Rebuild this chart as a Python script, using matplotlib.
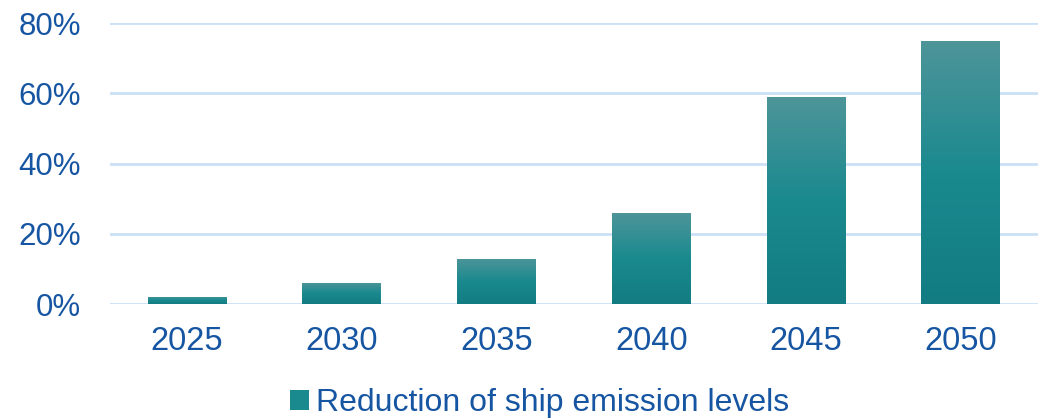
import matplotlib.pyplot as plt
import numpy as np
from matplotlib.colors import LinearSegmentedColormap
from matplotlib.patches import Patch

years = ['2025', '2030', '2035', '2040', '2045', '2050']
reduction = [2, 6, 13, 26, 59, 75]

plt.rcParams['font.family'] = ['Liberation Sans', 'DejaVu Sans']
text_col = '#1655A2'

fig = plt.figure(figsize=(10.56, 4.19), dpi=100)
ax = fig.add_axes([0.104, 0.274, 0.879, 0.671])

x = np.arange(len(years))
bars = ax.bar(x, reduction, width=0.51, color='#1A8A8F', zorder=2)

# vertical gradient inside each bar
cmap = LinearSegmentedColormap.from_list('teal', ['#127C82', '#1A8A8F', '#4E9599'])
grad = np.linspace(0, 1, 256).reshape(-1, 1)
for b in bars:
    x0, y0 = b.get_x(), b.get_y()
    w, h = b.get_width(), b.get_height()
    im = ax.imshow(grad, cmap=cmap, origin='lower', aspect='auto',
                   extent=[x0, x0 + w, y0, y0 + h], zorder=3)
    im.set_clip_path(b)
    b.set_facecolor('none')

ax.set_xlim(-0.5, len(years) - 0.5)
ax.set_ylim(0, 80)
ax.set_yticks([0, 20, 40, 60, 80])
ax.set_yticklabels(['0%', '20%', '40%', '60%', '80%'])
ax.set_xticks(x)
ax.set_xticklabels(years)
ax.tick_params(axis='x', length=0, labelsize=23.5, labelcolor=text_col, pad=16)
ax.tick_params(axis='y', length=0, labelsize=22.5, labelcolor=text_col, pad=21)

ax.grid(axis='y', color='#CCE0F5', linewidth=2, zorder=0)
ax.set_axisbelow(True)
for s in ax.spines.values():
    s.set_visible(False)

handle = Patch(facecolor='#1A8A8F')
fig.legend([handle], ['Reduction of ship emission levels'], loc='center',
           bbox_to_anchor=(0.511, 0.037), frameon=False, fontsize=23,
           labelcolor=text_col, handlelength=0.6, handleheight=0.6,
           handletextpad=0.2)

fig.savefig('out.png', dpi=100)
